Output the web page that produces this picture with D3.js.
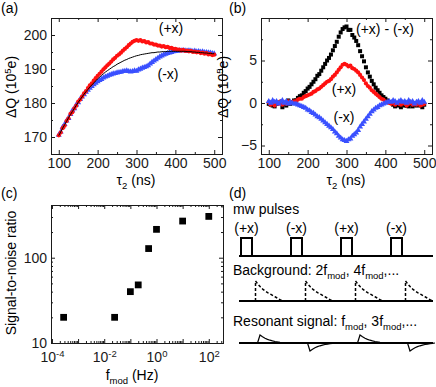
<!DOCTYPE html>
<html>
<head>
<meta charset="utf-8">
<style>
  body { margin: 0; background: #fff; }
  svg { display: block; font-family: "Liberation Sans", Arial, sans-serif; font-size: 14px; }
</style>
</head>
<body>
<div id="chart"></div>
<script src="https://cdn.jsdelivr.net/npm/d3@7"></script>
<script>

// tau_2 (ns) sampling for panels (a) and (b)
var tau = [100,105,110,115,120,125,130,135,140,145,
  150,155,160,165,170,175,180,185,190,195,
  200,205,210,215,220,225,230,235,240,245,
  250,255,260,265,270,275,280,285,290,295,
  300,305,310,315,320,325,330,335,340,345,
  350,355,360,365,370,375,380,385,390,395,
  400,405,410,415,420,425,430,435,440,445,
  450,455,460,465,470,475,480,485,490,495,
  500];

// (a) dQ (10^5 e)
var fitA = [170.4,171.5,172.6,173.6,174.6,175.6,176.6,177.5,178.4,179.3,
  180.2,181.0,181.8,182.6,183.3,184.0,184.7,185.3,185.9,186.5,
  187.1,187.6,188.1,188.6,189.1,189.5,189.9,190.3,190.7,191.0,
  191.4,191.7,192.0,192.3,192.6,192.8,193.1,193.3,193.5,193.7,
  193.9,194.0,194.2,194.3,194.4,194.5,194.6,194.7,194.8,194.8,
  194.9,195.0,195.0,195.1,195.1,195.1,195.2,195.2,195.2,195.2,
  195.2,195.2,195.2,195.2,195.2,195.2,195.1,195.1,195.1,195.0,
  195.0,194.9,194.9,194.8,194.8,194.7,194.7,194.6,194.6,194.5,
  194.5];
var plusA = [170.5,171.3,172.6,173.3,174.7,175.5,176.8,177.3,178.4,179.2,
  180.4,181.0,181.9,182.8,183.5,184.4,185.2,185.8,186.6,187.3,
  188.0,188.6,189.2,189.9,190.5,191.1,191.6,192.2,192.8,193.3,
  193.9,194.3,194.8,195.4,195.9,196.4,197.0,197.5,198.0,198.3,
  198.5,198.3,198.5,198.1,198.2,197.8,197.9,197.5,197.5,197.2,
  197.2,196.9,196.9,196.6,196.7,196.4,196.5,196.2,196.2,195.9,
  195.9,195.7,195.7,195.4,195.6,195.3,195.4,195.2,195.3,195.0,
  195.1,194.9,195.0,194.7,194.8,194.5,194.7,194.3,194.4,194.1,
  194.2];
var minusA = [170.6,171.5,172.9,173.7,174.8,175.5,176.7,177.8,178.4,179.5,
  180.1,181.1,181.8,182.5,183.2,183.8,184.4,184.9,185.4,185.9,
  186.3,186.7,187.0,187.4,187.7,187.9,188.2,188.4,188.6,188.7,
  188.9,189.0,189.1,189.3,189.4,189.5,189.3,189.2,189.3,189.5,
  189.4,189.8,190.0,190.3,190.5,190.7,191.0,191.5,192.0,192.4,
  192.8,193.2,193.6,193.9,194.2,194.4,194.6,194.8,194.9,195.1,
  195.2,195.3,195.4,195.4,195.5,195.4,195.3,195.4,195.3,195.2,
  195.3,195.1,195.2,195.0,195.1,194.9,194.9,194.8,194.7,194.6,
  194.5];

// (b) background-subtracted dQ (10^5 e)
var plusB = [0.1,-0.2,0.0,-0.3,0.1,-0.1,0.2,-0.2,0.0,-0.1,
  0.2,0.0,0.1,0.2,0.2,0.4,0.5,0.5,0.7,0.8,
  0.9,1.0,1.1,1.3,1.4,1.6,1.7,1.9,2.1,2.3,
  2.5,2.6,2.8,3.1,3.3,3.6,3.9,4.2,4.5,4.6,
  4.5,4.3,4.4,4.1,4.0,3.8,3.6,3.3,3.0,2.7,
  2.3,2.0,1.8,1.5,1.3,1.1,0.9,0.7,0.5,0.4,
  0.2,0.1,0.0,-0.1,0.1,-0.2,0.0,-0.1,-0.2,0.0,
  -0.1,-0.3,-0.1,0.0,-0.2,-0.1,-0.2,0.0,-0.3,-0.2,
  -0.1];
var minusB = [0.2,0.0,0.3,0.1,0.2,-0.1,0.1,0.3,0.0,0.2,
  -0.1,0.1,0.0,-0.1,-0.1,-0.2,-0.3,-0.4,-0.5,-0.6,
  -0.8,-0.9,-1.1,-1.2,-1.4,-1.6,-1.7,-1.9,-2.1,-2.3,
  -2.5,-2.7,-2.9,-3.1,-3.4,-3.6,-3.9,-4.1,-4.3,-4.4,
  -4.5,-4.3,-4.2,-3.9,-3.7,-3.5,-3.2,-2.8,-2.5,-2.2,
  -1.9,-1.6,-1.3,-1.0,-0.8,-0.6,-0.5,-0.3,-0.2,-0.1,
  0.0,0.1,0.2,0.1,0.3,0.2,0.0,0.2,0.3,0.1,
  0.2,0.0,0.3,0.1,0.2,-0.1,0.1,0.2,0.0,0.3,
  0.1];
var diffB = [-0.1,-0.2,-0.3,-0.4,-0.1,0.0,0.1,-0.5,0.0,-0.3,
  0.3,-0.1,0.1,0.3,0.3,0.6,0.8,0.9,1.2,1.4,
  1.7,1.9,2.2,2.5,2.8,3.2,3.4,3.8,4.2,4.6,
  5.0,5.3,5.7,6.2,6.7,7.2,7.8,8.3,8.7,8.9,
  9.0,8.6,8.6,8.0,7.7,7.3,6.8,6.1,5.5,4.9,
  4.2,3.6,3.1,2.6,2.2,1.8,1.5,1.2,0.9,0.7,
  0.5,0.3,0.1,0.0,-0.2,-0.4,0.0,-0.3,-0.5,-0.1,
  -0.3,-0.3,-0.4,-0.1,-0.4,0.0,-0.3,-0.2,-0.3,-0.5,
  -0.2];

// (c) signal-to-noise vs modulation frequency
var fmod = [2.8e-4, 0.025, 0.1, 0.2, 0.5, 1, 10, 100];
var snr = [20, 20, 40, 48, 128, 215, 269, 305];

// ticks
var abTicksX = [100, 200, 300, 400, 500];
var abMinorX = [150, 250, 350, 450];
var aTicksY = [170, 180, 190, 200];
var aMinorY = [175, 185, 195];
var bTicksY = [-5, 0, 5];
var bMinorY = [-2.5, 2.5, 7.5];
var cDecadesX = [1e-4, 1e-3, 1e-2, 1e-1, 1, 10, 100];
var cLabelsX = [1e-4, 1e-2, 1, 100];
var cTicksY = [10, 100];

// (d) schematic
var pulseLabels = ["(+x)", "(-x)", "(+x)", "(-x)"];
var resonantSign = [1, -1, 1, -1];
var decayShape = [1, 0.84, 0.7, 0.58, 0.49, 0.41, 0.34, 0.27, 0.2, 0.12, 0.05];
var resonantShape = [0, 1, 0.78, 0.6, 0.46, 0.35, 0.26, 0.19, 0.13, 0.08, 0.04, 0];

var RED = "#ff1010", BLUE = "#3a50ff", INK = "#1a1a1a";

var svg = d3.select("#chart").append("svg").attr("width", 436).attr("height", 387);
svg.append("rect").attr("width", 436).attr("height", 387).attr("fill", "#fff");

// text with sub/superscripts: parts = [[text, mode], ...]
function rich(sel, parts) {
  var shift = 0;
  parts.forEach(function(p) {
    var want = p[1] == "sub" ? 3.5 : p[1] == "sup" ? -5 : 0;
    var t = sel.append("tspan").text(p[0]);
    if (want - shift) t.attr("dy", want - shift);
    if (p[1]) t.attr("font-size", "9.5px");
    shift = want;
  });
  return sel;
}

function frame(g, x, y, w, h, o) {
  var sides = [
    ["bottom", d3.axisBottom, x, "0," + h],
    ["top", d3.axisTop, x, "0,0"],
    ["left", d3.axisLeft, y, "0,0"],
    ["right", d3.axisRight, y, w + ",0"]
  ];
  var out = {};
  sides.forEach(function(s) {
    var isX = s[0] == "bottom" || s[0] == "top";
    var labelled = s[0] == "bottom" || s[0] == "left";
    g.append("g").attr("transform", "translate(" + s[3] + ")")
      .call(s[1](s[2]).tickValues(isX ? o.xMinor : o.yMinor).tickSizeInner(-2).tickSizeOuter(0).tickFormat(""))
      .style("color", INK);
    out[s[0]] = g.append("g").attr("transform", "translate(" + s[3] + ")")
      .call(s[1](s[2]).tickValues(isX ? o.xMajor : o.yMajor).tickSizeInner(-4).tickSizeOuter(0)
        .tickPadding(4).tickFormat(labelled ? (isX ? o.xFormat : o.yFormat) : ""))
      .attr("font-family", null).attr("font-size", null)
      .style("color", INK);
  });
  g.selectAll(".domain").remove();
  g.append("rect").attr("x", 0.5).attr("y", 0.5).attr("width", w).attr("height", h)
    .attr("fill", "none").attr("stroke", INK);
  return out;
}

function markers(g, xs, ys, x, y, type, size, color) {
  g.append("g").selectAll("path").data(xs).enter().append("path")
    .attr("transform", function(d, i) { return "translate(" + x(d) + "," + y(ys[i]) + ")"; })
    .attr("d", d3.symbol(type, size))
    .attr("fill", color);
}

function yTitle(x, y) {
  var t = svg.append("text").attr("transform", "translate(" + x + "," + y + ") rotate(-90)")
    .attr("text-anchor", "middle");
  return rich(t, [["\u0394Q (10"], ["5", "sup"], ["e)"]]);
}
function tauTitle(x, y) {
  var t = svg.append("text").attr("x", x).attr("y", y).attr("text-anchor", "middle");
  return rich(t, [["\u03c4"], ["2", "sub"], [" (ns)"]]);
}
function label(x, y, s, anchor) {
  return svg.append("text").attr("x", x).attr("y", y).attr("text-anchor", anchor || "start").text(s);
}

var fmt = d3.format("d");

// ---------- (a) ----------
var wA = 171, hA = 136;
var gA = svg.append("g").attr("transform", "translate(51,18)");
var xA = d3.scaleLinear().domain([80, 520]).range([0, wA]);
var yA = d3.scaleLinear().domain([165, 205]).range([hA, 0]);
markers(gA, tau, minusA, xA, yA, d3.symbolTriangle, 15, BLUE);
markers(gA, tau, plusA, xA, yA, d3.symbolCircle, 14, RED);
gA.append("path").datum(tau)
  .attr("d", d3.line().x(function(d) { return xA(d); }).y(function(d, i) { return yA(fitA[i]); }).curve(d3.curveMonotoneX))
  .attr("fill", "none").attr("stroke", "#000").attr("stroke-width", 1);
frame(gA, xA, yA, wA, hA, {xMajor: abTicksX, xMinor: abMinorX, yMajor: aTicksY, yMinor: aMinorY, xFormat: fmt, yFormat: fmt});
label(171, 33, "(+x)", "middle");
label(168, 79, "(-x)", "middle");
yTitle(16, 87);
tauTitle(136, 185);
label(1, 13, "(a)");

// ---------- (b) ----------
var gB = svg.append("g").attr("transform", "translate(261,18)");
var yB = d3.scaleLinear().domain([-6, 10]).range([hA, 0]);
markers(gB, tau, diffB, xA, yB, d3.symbolSquare, 16, "#000");
markers(gB, tau, plusB, xA, yB, d3.symbolCircle, 14, RED);
markers(gB, tau, minusB, xA, yB, d3.symbolTriangle, 15, BLUE);
frame(gB, xA, yB, wA, hA, {xMajor: abTicksX, xMinor: abMinorX, yMajor: bTicksY, yMinor: bMinorY, xFormat: fmt, yFormat: fmt});
label(356, 34, "(+x) - (-x)");
label(344, 94, "(+x)", "middle");
label(344, 122, "(-x)", "middle");
yTitle(228, 87);
tauTitle(346, 185);
label(229, 13, "(b)");

// ---------- (c) ----------
var wC = 172, hC = 138;
var gC = svg.append("g").attr("transform", "translate(51,205)");
var xC = d3.scaleLog().domain([9.2e-5, 350]).range([0, wC]);
var yC = d3.scaleLog().domain([10, 415]).range([hC, 0]);
var minorX = [], minorY = [];
cDecadesX.forEach(function(d) {
  for (var k = 2; k < 10; k++) if (d * k < 350) minorX.push(d * k);
});
[10, 100].forEach(function(d) {
  for (var k = 2; k < 10; k++) if (d * k < 415) minorY.push(d * k);
});
markers(gC, fmod, snr, xC, yC, d3.symbolSquare, 46, "#000");
var axC = frame(gC, xC, yC, wC, hC, {xMajor: cDecadesX, xMinor: minorX, yMajor: cTicksY, yMinor: minorY,
  xFormat: function(d) { return cLabelsX.indexOf(d) >= 0 ? "x" : ""; }, yFormat: fmt});
axC.bottom.selectAll(".tick text").each(function(d) {
  var t = d3.select(this);
  if (t.text() == "") return;
  t.text(null).attr("y", 19).attr("dy", null);
  rich(t, [["10"], [String(Math.round(Math.log10(d))), "sup"]]);
});
svg.append("text").attr("transform", "translate(16,273) rotate(-90)").attr("text-anchor", "middle")
  .text("Signal-to-noise ratio");
rich(svg.append("text").attr("x", 132).attr("y", 380).attr("text-anchor", "middle"), [["f"], ["mod", "sub"], [" (Hz)"]]);
label(1, 198, "(c)");

// ---------- (d) ----------
var xd = d3.scaleLinear().domain([0, 1]).range([241, 291]);
var rows = {pulse: 256, back: 301, res: 343};
label(229, 198, "(d)");
label(233, 214, "mw pulses");
rich(svg.append("text").attr("x", 233).attr("y", 275),
  [["Background: 2f"], ["mod", "sub"], [", 4f"], ["mod", "sub"], [",..."]]);
rich(svg.append("text").attr("x", 233).attr("y", 326),
  [["Resonant signal: f"], ["mod", "sub"], [", 3f"], ["mod", "sub"], [",..."]]);

var gD = svg.append("g");
[rows.pulse, rows.back, rows.res].forEach(function(yy) {
  gD.append("line").attr("x1", xd(-0.04)).attr("x2", xd(3.84)).attr("y1", yy).attr("y2", yy)
    .attr("stroke", "#000").attr("stroke-width", 2);
});
gD.selectAll(".pulse").data(pulseLabels).enter().append("path")
  .attr("d", function(d, i) {
    return "M" + xd(i) + "," + rows.pulse + "V" + (rows.pulse - 18) + "H" + xd(i + 0.22) + "V" + rows.pulse;
  })
  .attr("fill", "none").attr("stroke", "#000").attr("stroke-width", 2);
gD.selectAll(".plab").data(pulseLabels).enter().append("text")
  .attr("x", function(d, i) { return xd(i + 0.11); }).attr("y", 233)
  .attr("text-anchor", "middle").text(function(d) { return d; });

var lineD = d3.line().x(function(d) { return xd(d[0]); }).y(function(d) { return d[1]; });
pulseLabels.forEach(function(p, i) {
  var pts = [[i + 0.29, rows.back]];
  decayShape.forEach(function(v, k) { pts.push([i + 0.29 + k * 0.05, rows.back - 20 * v]); });
  pts.push([i + 0.29 + 0.55, rows.back]);
  gD.append("path").attr("d", lineD(pts)).attr("fill", "none").attr("stroke", "#000")
    .attr("stroke-width", 1.5).attr("stroke-dasharray", "3,2");
  var rp = resonantShape.map(function(v, k) { return [i + 0.33 + k * 0.05, rows.res - resonantSign[i] * 8 * v]; });
  gD.append("path").attr("d", lineD(rp)).attr("fill", "none").attr("stroke", "#000").attr("stroke-width", 1.2);
});
</script>
</body>
</html>
